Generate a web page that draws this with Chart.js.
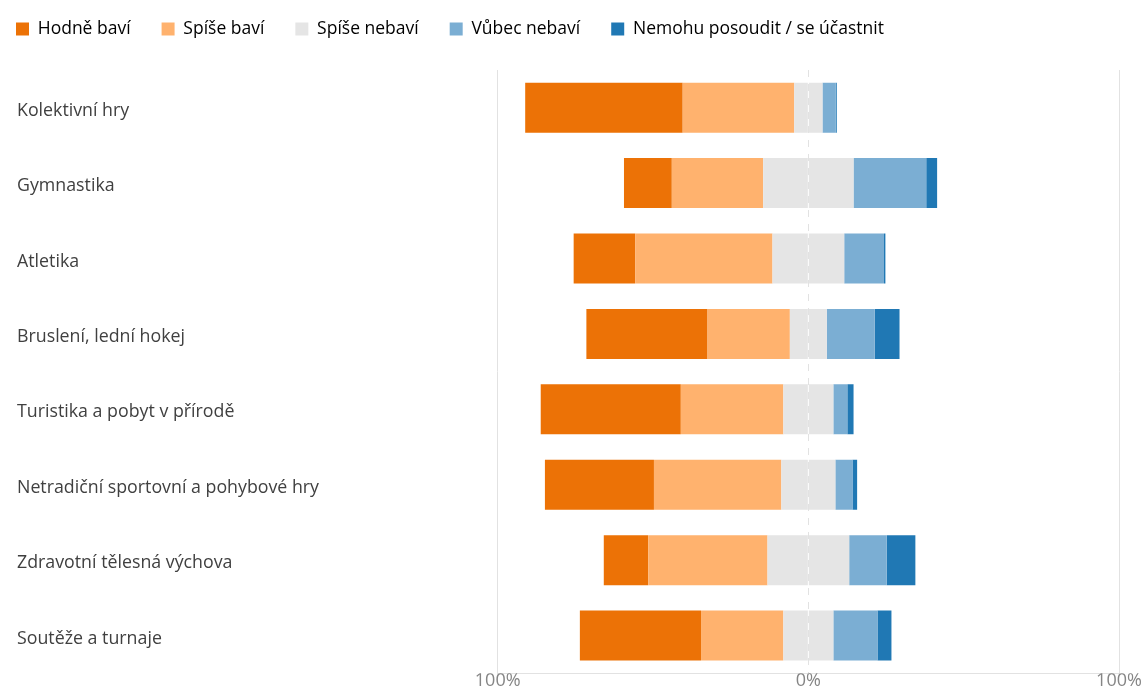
<!DOCTYPE html>
<html>
<head>
<meta charset="utf-8">
<script src="https://cdn.jsdelivr.net/npm/chart.js@4"></script>
<style>
  html, body { margin: 0; padding: 0; background: #ffffff; overflow: hidden; }
  #wrap { width: 1147px; height: 688px; }
</style>
</head>
<body>
<div id="wrap"><canvas id="c" width="1147" height="688"></canvas></div>
<script>
// ---- data (percent of respondents) ----
const categories = [
  "Kolektivní hry",
  "Gymnastika",
  "Atletika",
  "Bruslení, lední hokej",
  "Turistika a pobyt v přírodě",
  "Netradiční sportovní a pohybové hry",
  "Zdravotní tělesná výchova",
  "Soutěže a turnaje"
];
const seriesNames = ["Hodně baví", "Spíše baví", "Spíše nebaví", "Vůbec nebaví", "Nemohu posoudit / se účastnit"];
const hodneBavi    = [50.7, 15.4, 19.8, 39.0, 45.1, 35.1, 14.3, 39.0];
const spiseBavi    = [35.9, 29.4, 44.2, 26.5, 33.0, 41.0, 38.4, 26.5];
const spiseNebavi  = [ 9.1, 29.1, 23.1, 11.9, 16.1, 17.4, 26.3, 16.1];
const vubecNebavi  = [ 4.3, 23.4, 12.8, 15.4,  4.5,  5.5, 12.1, 14.2];
const nemohu       = [ 0.3,  3.5,  0.45, 8.0,  2.0,  1.5,  9.2,  4.5];
const xTickValues  = [-100, 0, 100];
const xTickLabels  = ["100%", "0%", "100%"];

// ---- styles ----
const seriesColors = ["#EC7206", "#FFB26E", "#E5E5E5", "#7BAED3", "#2078B4"];
const FONT = "'Open Sans', 'Noto Sans', sans-serif";

const neg = a => a.map(v => -v);
const half = a => a.map(v => v / 2);

const barOpts = { barPercentage: 0.663, categoryPercentage: 1.0, borderWidth: 0 };
const datasets = [
  // left side (stacked outward from 0)
  { label: seriesNames[2], data: neg(half(spiseNebavi)), backgroundColor: seriesColors[2], ...barOpts },
  { label: seriesNames[1], data: neg(spiseBavi),        backgroundColor: seriesColors[1], ...barOpts },
  { label: seriesNames[0], data: neg(hodneBavi),        backgroundColor: seriesColors[0], ...barOpts },
  // right side
  { label: seriesNames[2], data: half(spiseNebavi),     backgroundColor: seriesColors[2], ...barOpts },
  { label: seriesNames[3], data: vubecNebavi,           backgroundColor: seriesColors[3], ...barOpts },
  { label: seriesNames[4], data: nemohu,                backgroundColor: seriesColors[4], ...barOpts }
];

const LEGEND_PAD = 31;
const legendShift = {
  id: 'legendShift',
  afterLayout(chart) {
    const l = chart.legend;
    if (!l) return;
    l.left = 16 - LEGEND_PAD;
    l.top = 29 - LEGEND_PAD - 8.75;
  }
};

new Chart(document.getElementById('c'), {
  type: 'bar',
  data: { labels: categories, datasets },
  plugins: [legendShift],
  options: {
    indexAxis: 'y',
    responsive: false,
    animation: false,
    layout: { padding: { top: 11.5, left: 17, right: 28, bottom: 0 } },
    plugins: {
      tooltip: { enabled: false },
      legend: {
        position: 'top',
        align: 'start',
        labels: {
          boxWidth: 13,
          boxHeight: 13,
          padding: LEGEND_PAD,
          color: '#404040',
          font: { family: FONT, size: 17.5 },
          generateLabels: () => seriesNames.map((n, i) => ({
            text: n, fillStyle: seriesColors[i], strokeStyle: seriesColors[i],
            lineWidth: 0, hidden: false, datasetIndex: i
          }))
        }
      }
    },
    scales: {
      x: {
        stacked: true,
        min: -100,
        max: 100,
        afterBuildTicks: s => { s.ticks = xTickValues.map(v => ({ value: v })); },
        afterFit: s => { s.height = 14.7; },
        ticks: {
          autoSkip: false,
          maxRotation: 0,
          padding: -3,
          color: '#858585',
          font: { family: FONT, size: 18 },
          callback: v => xTickLabels[xTickValues.indexOf(v)]
        },
        grid: { color: '#E2E2E2', lineWidth: 1, drawTicks: false },
        border: {
          display: true, color: '#E2E2E2', width: 1,
          dash: ctx => (ctx.tick && ctx.tick.value === 0) ? [7, 7] : []
        }
      },
      y: {
        stacked: true,
        afterFit: s => { s.width = 480.7; },
        grid: { display: false },
        border: { display: false },
        ticks: {
          crossAlign: 'far',
          padding: 0,
          labelOffset: 3,
          color: '#404040',
          font: { family: FONT, size: 17.8 }
        }
      }
    }
  }
});
</script>
</body>
</html>
